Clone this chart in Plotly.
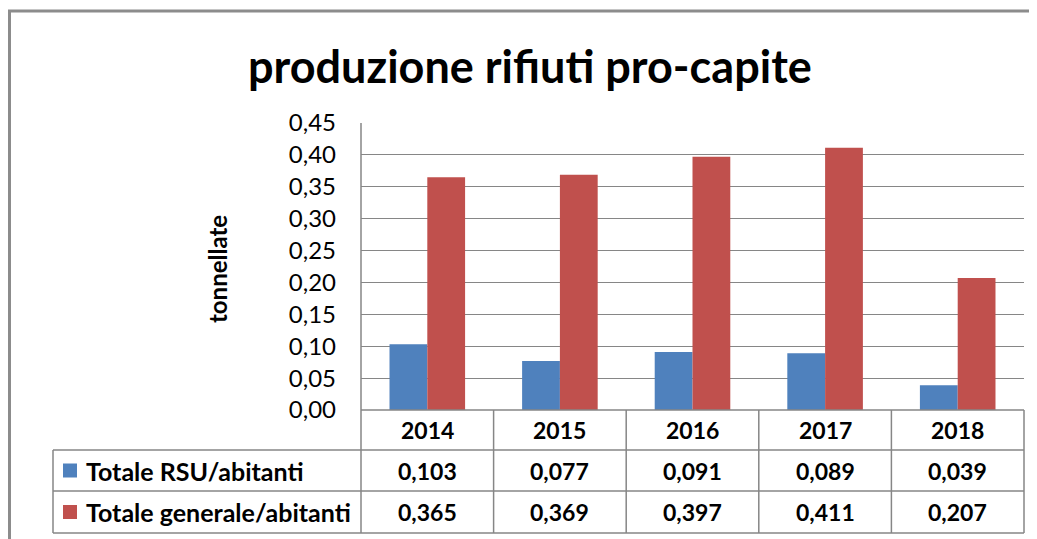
import plotly.graph_objects as go

years = ["2014", "2015", "2016", "2017", "2018"]
rsu = [0.103, 0.077, 0.091, 0.089, 0.039]
totale = [0.365, 0.369, 0.397, 0.411, 0.207]
series_names = ["Totale RSU/abitanti", "Totale generale/abitanti"]
colors = ["#4F81BD", "#C0504D"]
title_text = "produzione rifiuti pro-capite"
y_title = "tonnellate"

W, H = 1037, 539
FONT = "Lato"
GRID = "#868686"
OFF = 8  # page body margin

def px(x):
    return (x - OFF) / W

def py(y):
    return 1 - (y - OFF) / H

# layout geometry (viewport pixels)
PL, PR, PT, PB = 361, 1024, 123, 410
TL = 53
ROW_Y = [410, 450, 491, 533]
col_edges = [PL + i * (PR - PL) / len(years) for i in range(len(years) + 1)]

fig = go.Figure()
for name, vals, c in zip(series_names, [rsu, totale], colors):
    fig.add_trace(go.Bar(x=years, y=vals, name=name, marker=dict(color=c, line=dict(width=0)),
                         showlegend=False))

shapes = []
# outer frame (top and left edges visible)
FR = dict(color="#8C8C8C", width=3)
shapes.append(dict(type="line", xref="paper", yref="paper", x0=px(8), x1=px(1100), y0=py(11), y1=py(11), line=FR))
shapes.append(dict(type="line", xref="paper", yref="paper", x0=px(9.5), x1=px(9.5), y0=py(10), y1=py(600), line=FR))
# left plot axis line (through table)
shapes.append(dict(type="line", xref="paper", yref="paper", x0=px(PL), x1=px(PL), y0=py(PT), y1=py(ROW_Y[-1]),
                   line=dict(color=GRID, width=1.5)))
# table horizontal lines
shapes.append(dict(type="line", xref="paper", yref="paper", x0=px(PL), x1=px(PR), y0=py(ROW_Y[0]), y1=py(ROW_Y[0]),
                   line=dict(color=GRID, width=1.5)))
for yy in ROW_Y[1:]:
    shapes.append(dict(type="line", xref="paper", yref="paper", x0=px(TL), x1=px(PR), y0=py(yy), y1=py(yy),
                       line=dict(color=GRID, width=1.5)))
# table vertical lines
for xx in col_edges[1:]:
    shapes.append(dict(type="line", xref="paper", yref="paper", x0=px(xx), x1=px(xx), y0=py(ROW_Y[0]), y1=py(ROW_Y[-1]),
                       line=dict(color=GRID, width=1.5)))
shapes.append(dict(type="line", xref="paper", yref="paper", x0=px(TL), x1=px(TL), y0=py(ROW_Y[1]), y1=py(ROW_Y[-1]),
                   line=dict(color=GRID, width=1.5)))
# legend squares
for i, c in enumerate(colors):
    yc = (ROW_Y[i + 1] + ROW_Y[i + 2]) / 2
    shapes.append(dict(type="rect", xref="paper", yref="paper", x0=px(63), x1=px(77), y0=py(yc + 7), y1=py(yc - 7),
                       fillcolor=c, line=dict(width=0)))

ann = []
def A(x, y, text, size, xanchor="center", **kw):
    ann.append(dict(x=px(x), y=py(y), xref="paper", yref="paper", text=text, showarrow=False,
                    xanchor=xanchor, yanchor="middle", font=dict(family=FONT, size=size, color="#000"), **kw))

# header years
for i, yr in enumerate(years):
    xc = (col_edges[i] + col_edges[i + 1]) / 2
    A(xc, (ROW_Y[0] + ROW_Y[1]) / 2, f"<b>{yr}</b>", 23)
for r, (name, vals) in enumerate(zip(series_names, [rsu, totale])):
    yc = (ROW_Y[r + 1] + ROW_Y[r + 2]) / 2
    A(84, yc, f"<b>{name}</b>", 25, xanchor="left")
    for i, v in enumerate(vals):
        xc = (col_edges[i] + col_edges[i + 1]) / 2
        A(xc, yc, "<b>" + f"{v:.3f}".replace(".", ",") + "</b>", 23)
# y title
A(217, 269, f"<b>{y_title}</b>", 24, textangle=-90)
# chart title
A(530, 66, f"<b>{title_text}</b>", 45)

fig.update_layout(
    width=W, height=H, margin=dict(l=0, r=0, t=0, b=0, pad=0, autoexpand=False),
    paper_bgcolor="white", plot_bgcolor="white",
    separators=",.",
    barmode="group", bargap=0.43, bargroupgap=0,
    shapes=shapes, annotations=ann,
    xaxis=dict(domain=[px(PL), px(PR)], showticklabels=False, showgrid=False, zeroline=False, showline=False,
               ticks="", automargin=False),
    yaxis=dict(domain=[py(PB), py(PT)], range=[0, 0.45], dtick=0.05, tick0=0, tickformat=".2f",
               showgrid=True, gridcolor=GRID, gridwidth=1.3, zeroline=False, showline=False, ticks="",
               automargin=False,
               ticklabelstandoff=24, tickfont=dict(family=FONT, size=24, color="#000")),
)

fig.write_html("out.html")
